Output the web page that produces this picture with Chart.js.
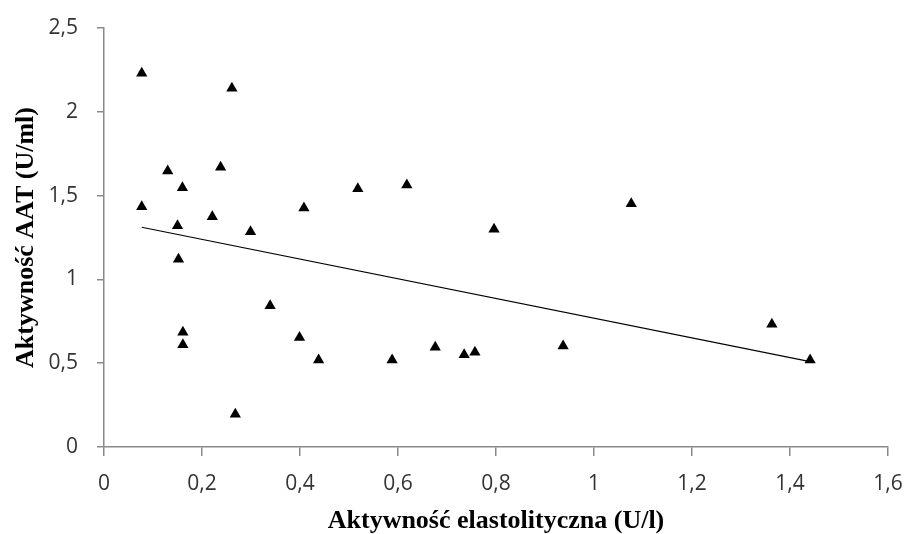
<!DOCTYPE html>
<html lang="pl">
<head>
<meta charset="utf-8">
<title>Aktywność AAT a aktywność elastolityczna</title>
<script src="https://cdn.jsdelivr.net/npm/chart.js@4.4.1/dist/chart.umd.min.js"></script>
<style>
    html, body { margin: 0; padding: 0; background: #fff; }
    #wrap { width: 906px; height: 534px; }
</style>
</head>
<body>
<div id="wrap"><canvas id="chart" width="906" height="534"></canvas></div>
<script>
// measured samples: elastolytic activity (U/l) vs AAT activity (U/ml)
const elastolytic = [
    0.077, 0.261, 0.130, 0.238, 0.160, 0.077, 0.221, 0.150, 0.299, 0.152,
    0.408, 0.518, 0.618, 1.076, 0.796, 0.339, 0.161, 0.161, 0.399, 0.438,
    0.268, 0.588, 0.676, 0.735, 0.757, 0.937, 1.363, 1.441
];
const aat = [
    2.23, 2.14, 1.647, 1.669, 1.547, 1.434, 1.374, 1.320, 1.285, 1.12,
    1.426, 1.541, 1.563, 1.452, 1.299, 0.843, 0.684, 0.610, 0.654, 0.519,
    0.195, 0.519, 0.595, 0.551, 0.565, 0.603, 0.732, 0.519
];

// linear trend line end points
const trendX = [0.077, 1.441];
const trendY = [1.311, 0.509];

const xTicks = [0, 0.2, 0.4, 0.6, 0.8, 1, 1.2, 1.4, 1.6];
const yTicks = [0, 0.5, 1, 1.5, 2, 2.5];

const axisColor = '#8a8a8a';
const tickFont = { family: '"Open Sans", "DejaVu Sans", sans-serif', size: 21 };
const titleFont = { family: '"Liberation Serif", "Times New Roman", serif', size: 26, weight: 'bold', lineHeight: 1 };

const fmt = v => (Math.round(v * 10) / 10).toString().replace('.', ',');

const points = elastolytic.map((x, i) => ({ x: x, y: aat[i] }));
const trend = trendX.map((x, i) => ({ x: x, y: trendY[i] }));

new Chart(document.getElementById('chart'), {
    type: 'scatter',
    data: {
        datasets: [
            {
                label: 'AAT',
                data: points,
                pointStyle: 'triangle',
                pointRadius: 6.5,
                backgroundColor: '#000',
                borderColor: '#000',
                borderWidth: 0
            },
            {
                label: 'Trend',
                data: trend,
                showLine: true,
                pointRadius: 0,
                borderColor: '#000',
                borderWidth: 1.2,
                fill: false
            }
        ]
    },
    options: {
        responsive: false,
        animation: false,
        events: [],
        layout: { padding: { top: 28, right: 18, left: 0, bottom: 0 } },
        plugins: {
            legend: { display: false },
            tooltip: { enabled: false }
        },
        scales: {
            x: {
                type: 'linear',
                min: 0,
                max: 1.6,
                afterBuildTicks: scale => { scale.ticks = xTicks.map(v => ({ value: v })); },
                afterFit: scale => {
                    scale.height = 87;
                    scale.paddingLeft = 0;
                    scale.paddingRight = 0;
                },
                grid: { drawOnChartArea: false, drawTicks: true, tickLength: 9, color: axisColor, lineWidth: 1.5 },
                border: { color: axisColor, width: 1.5 },
                ticks: { font: tickFont, color: '#333', padding: 15, maxRotation: 0, callback: v => fmt(v) },
                title: {
                    display: true,
                    text: 'Aktywność elastolityczna (U/l)',
                    font: titleFont,
                    color: '#000',
                    padding: { top: 0, bottom: 0 }
                }
            },
            y: {
                type: 'linear',
                min: 0,
                max: 2.5,
                afterBuildTicks: scale => { scale.ticks = yTicks.map(v => ({ value: v })); },
                afterFit: scale => {
                    scale.width = 104;
                    scale.paddingTop = 0;
                    scale.paddingBottom = 0;
                },
                grid: { drawOnChartArea: false, drawTicks: true, tickLength: 7, color: axisColor, lineWidth: 1.5 },
                border: { color: axisColor, width: 1.5 },
                ticks: { font: tickFont, color: '#333', padding: 19, callback: v => fmt(v) },
                title: {
                    display: true,
                    text: 'Aktywność AAT (U/ml)',
                    font: titleFont,
                    color: '#000',
                    padding: { top: 13, bottom: 0 }
                }
            }
        }
    }
});
</script>
</body>
</html>
